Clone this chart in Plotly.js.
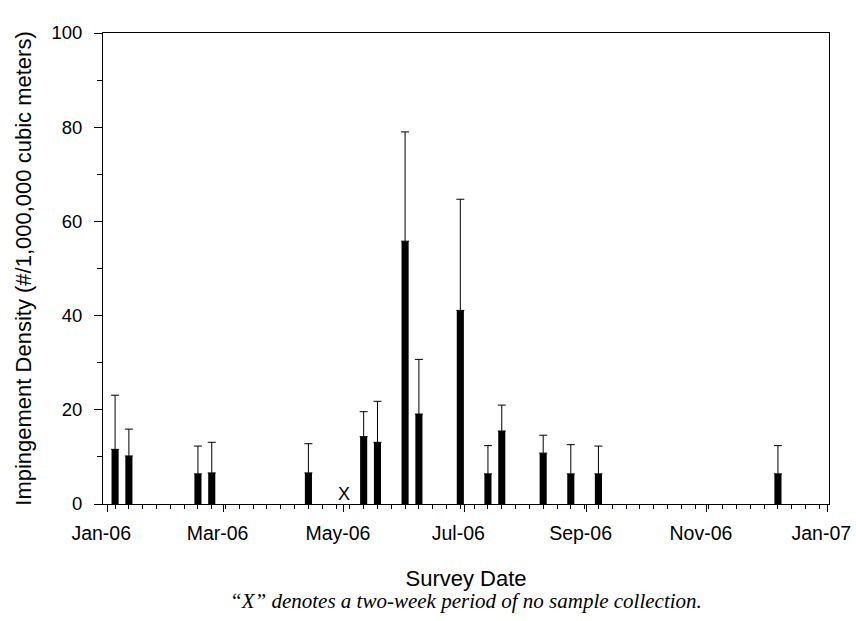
<!DOCTYPE html>
<html>
<head>
<meta charset="utf-8">
<script src="https://cdn.plot.ly/plotly-3.0.1.min.js"></script>
<style>html,body{margin:0;padding:0;background:#fff;}#chart{width:856px;height:621px;}</style>
</head>
<body>
<div id="chart"></div>
<script>
// Survey dates (weekly Thursdays with a sample)
const surveyDates = ['2006-01-05','2006-01-12','2006-02-16','2006-02-23','2006-04-13','2006-05-11','2006-05-18','2006-06-01','2006-06-08','2006-06-29','2006-07-13','2006-07-20','2006-08-10','2006-08-24','2006-09-07','2006-12-07'];
// Mean impingement density (#/1,000,000 cubic meters)
const densityMean = [11.6, 10.2, 6.4, 6.6, 6.6, 14.3, 13.1, 55.8, 19.1, 41.1, 6.4, 15.5, 10.8, 6.4, 6.4, 6.4];
// Upper error (standard error above mean)
const densityErr = [11.5, 5.7, 5.9, 6.5, 6.2, 5.3, 8.7, 23.2, 11.6, 23.6, 6.0, 5.5, 3.8, 6.2, 5.9, 6.0];
// Period with no sample collection
const noSampleDate = '2006-05-01';

const DAY = 86400000;
const fontFam = 'Liberation Sans, Arial, sans-serif';

const trace = {
  type: 'bar',
  x: surveyDates,
  y: densityMean,
  width: 3.6 * DAY,
  marker: {color: '#000000', line: {width: 0}},
  error_y: {type: 'data', array: densityErr, arrayminus: densityMean.map(() => 0), symmetric: false, color: '#000000', thickness: 1, width: 4},
  hoverinfo: 'x+y'
};

const layout = {
  width: 856, height: 621,
  margin: {l: 103, r: 27, t: 33, b: 117},
  paper_bgcolor: '#ffffff', plot_bgcolor: '#ffffff',
  showlegend: false,
  font: {family: fontFam, size: 18, color: '#000000'},
  xaxis: {
    type: 'date',
    range: ['2005-12-29 21:00', '2007-01-01 21:00'],
    tick0: '2006-01-01', dtick: 'M2', tickformat: '%b-%y',
    ticks: 'outside', ticklen: 7, tickcolor: '#000', tickwidth: 1,
    minor: {ticks: 'outside', ticklen: 4, tick0: '2006-01-05', dtick: 7 * DAY, tickcolor: '#000', showgrid: false},
    showline: true, linecolor: '#000', linewidth: 1, mirror: true,
    showgrid: false, zeroline: false,
    tickfont: {family: fontFam, size: 19.5, color: '#000'},
    ticklabelstandoff: 5,
    ticklabelshift: -6,
    title: {text: 'Survey Date', font: {family: fontFam, size: 22, color: '#000'}, standoff: 27}
  },
  yaxis: {
    range: [0, 100], dtick: 20,
    ticks: 'outside', ticklen: 8, tickcolor: '#000', tickwidth: 1,
    minor: {ticks: 'outside', ticklen: 5, dtick: 10, tickcolor: '#000', showgrid: false},
    showline: true, linecolor: '#000', linewidth: 1, mirror: true,
    showgrid: false, zeroline: false,
    tickfont: {family: fontFam, size: 18.5, color: '#000'},
    ticklabelstandoff: 8,
    title: {text: 'Impingement Density (#/1,000,000 cubic meters)', font: {family: fontFam, size: 22, color: '#000'}, standoff: 13}
  },
  annotations: [
    {x: noSampleDate, y: 0, xref: 'x', yref: 'y', text: 'X', showarrow: false, yanchor: 'bottom', yshift: -2,
     font: {family: fontFam, size: 18, color: '#000'}},
    {x: 0.5, y: -0.206, xref: 'paper', yref: 'paper', text: '<i>\u201cX\u201d denotes a two-week period of no sample collection.</i>',
     showarrow: false, xanchor: 'center', yanchor: 'middle',
     font: {family: 'Liberation Serif, Times New Roman, serif', size: 21, color: '#000'}}
  ]
};

Plotly.newPlot('chart', [trace], layout, {displayModeBar: false, staticPlot: true});
</script>
</body>
</html>
